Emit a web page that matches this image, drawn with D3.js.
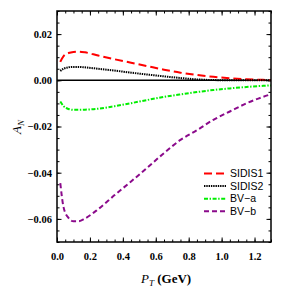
<!DOCTYPE html>
<html>
<head>
<meta charset="utf-8">
<script src="https://cdn.jsdelivr.net/npm/d3@7"></script>
<style>
body { margin: 0; background: #fff; }
svg { display: block; }
</style>
</head>
<body>
<script>
const pt = [0.02, 0.04, 0.07, 0.1, 0.13, 0.17, 0.25, 0.35, 0.45, 0.55, 0.65, 0.75, 0.85, 0.95, 1.05, 1.15, 1.25, 1.3];
const sidis1 = [0.0080, 0.0105, 0.0118, 0.0123, 0.0124, 0.0121, 0.0107, 0.0091, 0.0076, 0.0061, 0.0046, 0.0033, 0.0023, 0.0015, 0.0009, 0.0005, 0.0002, 0.0001];
const sidis2 = [0.0040, 0.0050, 0.0056, 0.0058, 0.0058, 0.0056, 0.0050, 0.0042, 0.0033, 0.0025, 0.0017, 0.0010, 0.0004, 0.0001, 0.0, 0.0, 0.0, 0.0];
const bva = [-0.0092, -0.0112, -0.0124, -0.0128, -0.0128, -0.0127, -0.0123, -0.0112, -0.0099, -0.0085, -0.0072, -0.0061, -0.0051, -0.0042, -0.0035, -0.0029, -0.0024, -0.0022];
const bvb = [-0.0445, -0.0550, -0.0596, -0.0610, -0.0610, -0.0598, -0.0558, -0.0497, -0.0438, -0.0377, -0.0315, -0.0258, -0.0216, -0.0171, -0.0135, -0.0100, -0.0072, -0.0060];
const xTicks = [0, 0.2, 0.4, 0.6, 0.8, 1.0, 1.2];
const yTicks = [-0.06, -0.04, -0.02, 0, 0.02];

const series = [
    {name: "SIDIS1", values: sidis1, color: "#ff0000", dash: "8,4"},
    {name: "SIDIS2", values: sidis2, color: "#000000", dash: "1.4,0.9"},
    {name: "BV\u2212a", values: bva, color: "#00ee00", dash: "4,1.6,1.4,1.6"},
    {name: "BV\u2212b", values: bvb, color: "#8b0a8b", dash: "5,3"}
];

const W = 300, H = 300;
const margin = {top: 11, right: 29, bottom: 58, left: 57};

const svg = d3.select("body").append("svg")
    .attr("width", W)
    .attr("height", H);

const x = d3.scaleLinear().domain([0, 1.3]).range([margin.left, W - margin.right]);
const y = d3.scaleLinear().domain([-0.07, 0.03]).range([H - margin.bottom, margin.top]);

const minorX = d3.range(0, 1.3001, 0.05);
const minorY = d3.range(-0.07, 0.0301, 0.005);

// ticks, all inward
function ticks(axisFn, scale, vals, size, transform) {
    svg.append("g")
        .attr("transform", transform)
        .call(axisFn(scale).tickValues(vals).tickSize(-size).tickFormat(""))
        .call(g => g.select(".domain").remove())
        .selectAll("line").attr("stroke", "#000").attr("stroke-width", 1);
}
const bottomT = `translate(0,${H - margin.bottom})`;
const topT = `translate(0,${margin.top})`;
const leftT = `translate(${margin.left},0)`;
const rightT = `translate(${W - margin.right},0)`;
ticks(d3.axisBottom, x, minorX, 2.5, bottomT);
ticks(d3.axisBottom, x, xTicks, 4.5, bottomT);
ticks(d3.axisTop, x, minorX, 2.5, topT);
ticks(d3.axisTop, x, xTicks, 4.5, topT);
ticks(d3.axisLeft, y, minorY, 2.5, leftT);
ticks(d3.axisLeft, y, yTicks, 4.5, leftT);
ticks(d3.axisRight, y, minorY, 2.5, rightT);
ticks(d3.axisRight, y, yTicks, 4.5, rightT);

// tick labels
svg.append("g")
    .attr("transform", bottomT)
    .call(d3.axisBottom(x).tickValues(xTicks).tickSize(0).tickPadding(11).tickFormat(d3.format(".1f")))
    .call(g => g.select(".domain").remove())
    .selectAll("text")
    .attr("font-family", "Liberation Serif, Times New Roman, serif")
    .attr("font-weight", "bold")
    .attr("font-size", 10.5)
    .attr("fill", "#000");

svg.append("g")
    .attr("transform", leftT)
    .call(d3.axisLeft(y).tickValues(yTicks).tickSize(0).tickPadding(5)
        .tickFormat(d => d3.format(".2f")(d).replace("-", "\u2212")))
    .call(g => g.select(".domain").remove())
    .selectAll("text")
    .attr("font-family", "Liberation Serif, Times New Roman, serif")
    .attr("font-weight", "bold")
    .attr("font-size", 10.5)
    .attr("fill", "#000");

// zero line
svg.append("line")
    .attr("x1", x(0)).attr("x2", x(1.3))
    .attr("y1", y(0)).attr("y2", y(0))
    .attr("stroke", "#000").attr("stroke-width", 1.6);

// curves
const line = d3.line()
    .x((d, i) => x(pt[i]))
    .y(d => y(d))
    .curve(d3.curveMonotoneX);

svg.selectAll(".curve")
    .data(series)
    .enter()
    .append("path")
    .attr("class", "curve")
    .attr("d", d => line(d.values))
    .attr("fill", "none")
    .attr("stroke", d => d.color)
    .attr("stroke-width", 2)
    .attr("stroke-dasharray", d => d.dash);

// frame
svg.append("rect")
    .attr("x", margin.left).attr("y", margin.top)
    .attr("width", W - margin.left - margin.right)
    .attr("height", H - margin.top - margin.bottom)
    .attr("fill", "none").attr("stroke", "#000").attr("stroke-width", 1.5);

// legend
const legend = svg.append("g").attr("transform", "translate(204,173.5)");
const rows = legend.selectAll("g")
    .data(series)
    .enter()
    .append("g")
    .attr("transform", (d, i) => `translate(0,${i * 12.6})`);
rows.append("line")
    .attr("x1", 0).attr("x2", 22)
    .attr("stroke", d => d.color)
    .attr("stroke-width", 2)
    .attr("stroke-dasharray", d => d.dash);
rows.append("text")
    .attr("x", 26)
    .attr("y", 3.6)
    .attr("font-family", "Liberation Sans Narrow, Arial Narrow, sans-serif")
    .attr("font-size", 10.5)
    .text(d => d.name);

// axis titles
const xt = svg.append("text")
    .attr("x", 141).attr("y", 283)
    .attr("font-family", "Liberation Serif, Times New Roman, serif")
    .attr("font-size", 13);
xt.append("tspan").attr("font-style", "italic").text("P");
xt.append("tspan").attr("font-style", "italic").attr("font-size", 9).attr("dy", 3).text("T");
xt.append("tspan").attr("dy", -3).attr("font-weight", "bold").text(" (GeV)");

const yt = svg.append("text")
    .attr("transform", "translate(21,134) rotate(-90)")
    .attr("font-family", "Liberation Serif, Times New Roman, serif")
    .attr("font-size", 13);
yt.append("tspan").attr("font-style", "italic").text("A");
yt.append("tspan").attr("font-style", "italic").attr("font-size", 9).attr("dy", 3).text("N");
</script>
</body>
</html>
